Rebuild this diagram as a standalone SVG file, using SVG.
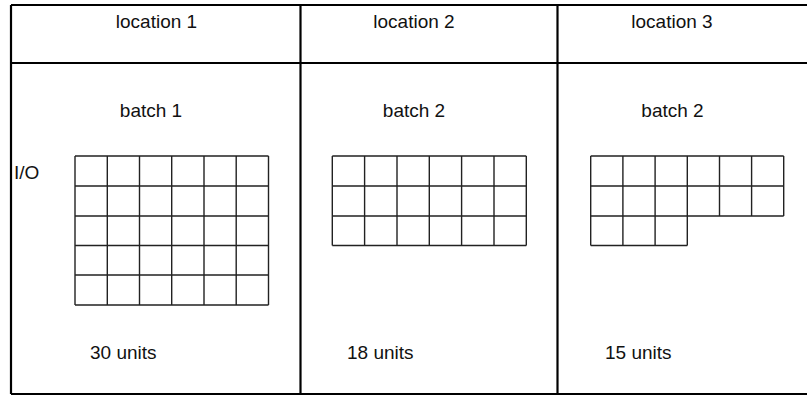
<svg xmlns="http://www.w3.org/2000/svg" width="807" height="396" viewBox="0 0 807 396">
<style>
.frame{stroke:#000;stroke-width:2.2;fill:none}
.cell{stroke:#222;stroke-width:1.4;fill:none}
text{font-family:"Liberation Sans",Arial,sans-serif;font-size:19px;fill:#111}
.c{text-anchor:middle}
</style>
<rect width="807" height="396" fill="#fff"/>
<g id="table">
<line class="frame" x1="11" y1="5" x2="807" y2="5"/>
<line class="frame" x1="11" y1="63" x2="807" y2="63"/>
<line class="frame" x1="11" y1="394" x2="807" y2="394"/>
<line class="frame" x1="11" y1="5" x2="11" y2="394"/>
<line class="frame" x1="300.5" y1="5" x2="300.5" y2="394"/>
<line class="frame" x1="557.5" y1="5" x2="557.5" y2="394"/>
</g>
<g id="location1">
<text class="c" x="156.5" y="28">location 1</text>
<text class="c" x="151" y="117">batch 1</text>
<text x="14" y="179">I/O</text>
<path class="cell" d="M75 156H268.5M75 186H268.5M75 216H268.5M75 245.5H268.5M75 275H268.5M75 305H268.5M75 156V305M107.3 156V305M139.5 156V305M171.7 156V305M204 156V305M236.2 156V305M268.5 156V305"/>
<text x="90" y="359">30 units</text>
</g>
<g id="location2">
<text class="c" x="414" y="28">location 2</text>
<text class="c" x="414" y="117">batch 2</text>
<path class="cell" d="M332.3 156H526.3M332.3 186H526.3M332.3 216H526.3M332.3 245.5H526.3M332.3 156V245.5M364.6 156V245.5M397 156V245.5M429.3 156V245.5M461.6 156V245.5M494 156V245.5M526.3 156V245.5"/>
<text x="347" y="359">18 units</text>
</g>
<g id="location3">
<text class="c" x="672" y="28">location 3</text>
<text class="c" x="672.5" y="117">batch 2</text>
<path class="cell" d="M590.7 156H783.7M590.7 186H783.7M590.7 216H783.7M590.7 245.5H687.3M590.7 156V245.5M622.9 156V245.5M655.1 156V245.5M687.3 156V245.5M719.5 156V216M751.6 156V216M783.7 156V216"/>
<text x="605" y="359">15 units</text>
</g>
</svg>
